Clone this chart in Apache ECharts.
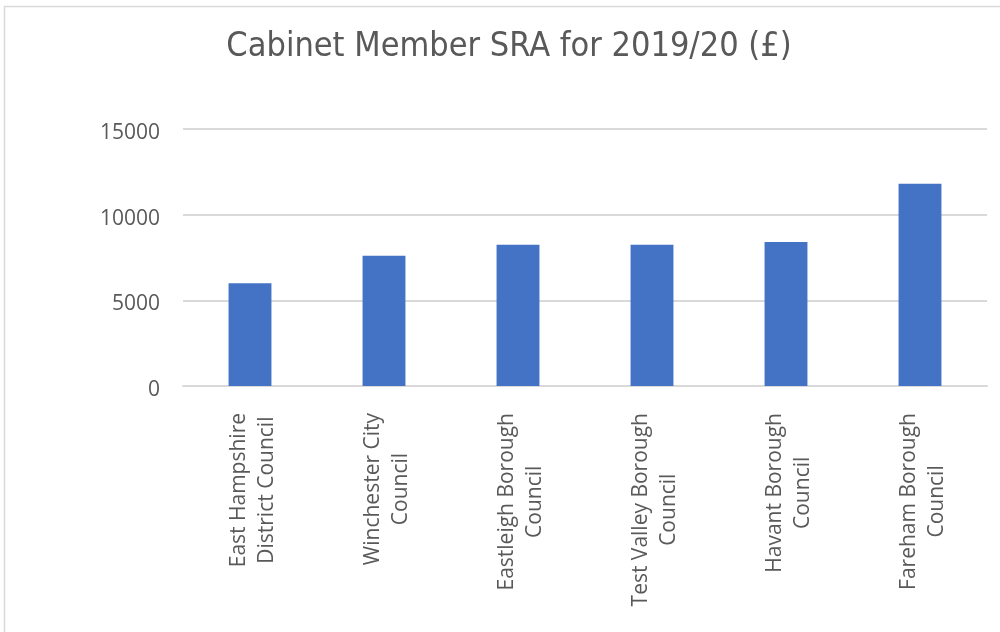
<!DOCTYPE html>
<html>
<head>
<meta charset="utf-8">
<script src="https://cdn.jsdelivr.net/npm/echarts@6/dist/echarts.min.js"></script>
<style>
  html, body { margin: 0; padding: 0; background: #fff; }
  #chart { width: 1000px; height: 632px; }
</style>
</head>
<body>
<div id="chart"></div>
<script>
const councils = [
  'East Hampshire\nDistrict Council',
  'Winchester City\nCouncil',
  'Eastleigh Borough\nCouncil',
  'Test Valley Borough\nCouncil',
  'Havant Borough\nCouncil',
  'Fareham Borough\nCouncil'
];
const sra = [6000, 7600, 8240, 8240, 8400, 11800];
const yTicks = [0, 5000, 10000, 15000];

const textGrey = '#595959';
const chart = echarts.init(document.getElementById('chart'));
chart.setOption({
  animation: false,
  title: {
    text: 'Cabinet Member SRA for 2019/20 (£)',
    left: 504,
    top: 25,
    textAlign: 'center',
    textStyle: {
      fontFamily: '"Liberation Sans Narrow", "DejaVu Sans Condensed", sans-serif',
      fontSize: 34,
      fontWeight: 'normal',
      color: textGrey
    }
  },
  graphic: [{
    type: 'rect',
    shape: { x: 4.5, y: 6.5, width: 1000, height: 640 },
    style: { fill: 'none', stroke: '#d9d9d9', lineWidth: 1.5 },
    silent: true
  }],
  grid: { left: 183, right: 13, top: 129, bottom: 246 },
  xAxis: {
    type: 'category',
    data: councils,
    axisLine: { lineStyle: { color: '#d9d9d9', width: 2 } },
    axisTick: { show: false },
    axisLabel: {
      rotate: 90,
      margin: 27,
      interval: 0,
      align: 'right',
      padding: [6, 0, 0, 0],
      // each line centred inside the rotated block
      formatter: v => v.split('\n').map(s => '{c|' + s + '}').join('\n'),
      rich: {
        c: { align: 'center', fontFamily: 'Open Sans', fontSize: 21, lineHeight: 28.5, color: textGrey }
      }
    }
  },
  yAxis: {
    type: 'value',
    min: yTicks[0],
    max: yTicks[yTicks.length - 1],
    interval: yTicks[1] - yTicks[0],
    axisLine: { show: false },
    axisTick: { show: false },
    splitLine: { lineStyle: { color: '#d9d9d9', width: 2 } },
    axisLabel: {
      margin: 23,
      formatter: v => '{v|' + v + '}',
      rich: {
        v: { padding: [8, 0, 0, 0], fontFamily: 'Open Sans', fontSize: 21, color: textGrey }
      }
    }
  },
  series: [{
    type: 'bar',
    data: sra,
    barWidth: '32%',
    itemStyle: { color: '#4472c4' }
  }]
});
</script>
</body>
</html>
